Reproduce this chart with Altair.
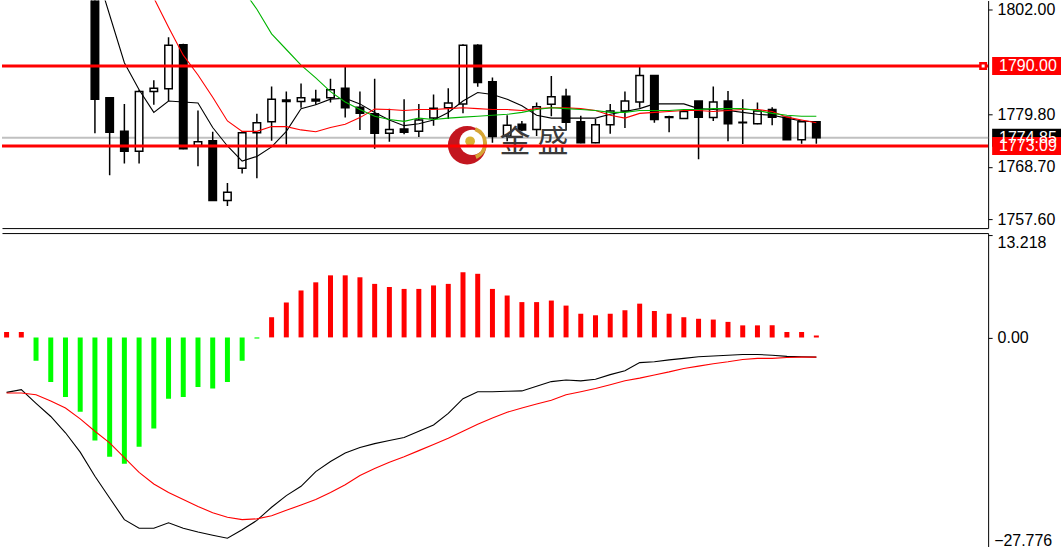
import altair as alt
import pandas as pd

FONT = "Liberation Sans"

# ---------------- price window ----------------
# candles start at bar 6; the bars before it lie above the visible price range
first_bar = 6
open_ = [1806.8, 1783.3, 1776.2, 1772.0, 1784.6, 1785.2, 1794.5, 1773.2, 1774.2, 1761.6,
         1768.4, 1775.9, 1778.2, 1782.8, 1782.5, 1783.0, 1783.3, 1785.3, 1781.3, 1779.9,
         1775.8, 1776.7, 1776.2, 1779.0, 1781.2, 1782.0, 1794.4, 1786.7, 1775.2, 1777.7,
         1776.6, 1781.9, 1783.6, 1778.2, 1773.8, 1777.6, 1780.5, 1782.4, 1788.0, 1779.3,
         1778.9, 1782.6, 1779.1, 1782.6, 1778.1, 1777.8, 1780.8, 1779.2, 1774.4, 1778.2]
high_ = [1808.9, 1783.4, 1782.0, 1785.0, 1787.0, 1796.1, 1794.7, 1780.6, 1776.1, 1765.3,
         1776.2, 1779.9, 1785.7, 1784.6, 1786.3, 1785.0, 1787.3, 1789.8, 1784.6, 1787.3,
         1781.0, 1783.0, 1782.0, 1784.0, 1785.3, 1794.6, 1794.6, 1787.6, 1779.6, 1778.4,
         1782.3, 1787.9, 1785.2, 1779.5, 1778.8, 1782.0, 1784.6, 1789.8, 1788.1, 1779.5,
         1780.5, 1782.6, 1785.7, 1784.7, 1783.0, 1782.3, 1781.3, 1779.3, 1778.4, 1778.4]
low_ = [1775.8, 1766.9, 1769.4, 1769.4, 1781.8, 1782.6, 1772.4, 1768.8, 1761.5, 1760.4,
        1767.3, 1766.3, 1774.2, 1773.4, 1781.2, 1781.8, 1782.3, 1779.1, 1776.5, 1772.5,
        1774.0, 1775.6, 1775.0, 1777.4, 1778.8, 1780.0, 1785.6, 1773.8, 1774.1, 1776.2,
        1775.2, 1779.4, 1776.4, 1773.7, 1773.7, 1775.7, 1776.9, 1781.2, 1778.0, 1776.0,
        1778.9, 1770.3, 1778.4, 1774.1, 1773.5, 1777.7, 1777.5, 1774.4, 1773.6, 1773.6]
close_ = [1783.0, 1776.0, 1772.0, 1784.6, 1785.3, 1794.4, 1772.5, 1774.0, 1761.6, 1763.3,
          1775.9, 1778.0, 1783.0, 1782.5, 1783.3, 1782.6, 1785.0, 1781.2, 1780.0, 1775.8,
          1776.6, 1776.0, 1778.6, 1781.1, 1782.2, 1794.4, 1786.5, 1775.1, 1777.5, 1776.5,
          1781.4, 1783.5, 1778.1, 1773.8, 1777.6, 1780.5, 1782.6, 1788.0, 1778.7, 1779.1,
          1780.4, 1779.2, 1782.4, 1777.8, 1778.0, 1780.5, 1779.2, 1774.4, 1778.2, 1774.85]

# moving averages on the same bars (None = not drawn)
ma_fast = [1810.9, 1800.8, 1790.7, 1785.0, 1780.2, 1782.6, 1782.4, 1782.2, 1777.0, 1773.1,
           1769.9, 1770.9, 1772.9, 1776.2, 1781.0, 1781.8, 1783.0, 1783.2, 1782.0, 1780.2,
           1778.6, 1777.4, 1777.8, 1778.6, 1780.2, 1782.6, 1784.4, 1784.0, 1783.0, 1781.6,
           1779.6, 1779.0, 1779.0, 1779.0, 1779.0, 1779.8, 1780.4, 1781.0, 1782.0, 1782.0,
           1782.0, 1781.0, 1780.8, 1780.6, 1780.2, 1779.8, 1779.6, 1779.0, 1778.4, 1778.2]
ma_mid = [None, None, None, 1812.9, 1804.4, 1798.2, 1792.3, 1788.1, 1783.4, 1778.4,
          1776.2, 1776.2, 1777.2, 1777.2, 1776.5, 1776.1, 1777.0, 1777.7, 1779.1, 1780.9,
          1780.8, 1780.6, 1780.8, 1780.8, 1781.0, 1781.2, 1781.0, 1780.8, 1780.8, 1780.6,
          1781.0, 1781.2, 1781.2, 1781.0, 1780.6, 1779.6, 1779.0, 1780.0, 1780.2, 1780.4,
          1780.6, 1780.6, 1780.4, 1780.6, 1780.8, 1780.8, 1780.4, 1779.2, 1778.6, 1778.0]
ma_slow = [None, None, None, None, None, None, None, None, None, 1810.9,
           1806.4, 1802.0, 1796.8, 1793.5, 1790.2, 1787.5, 1784.6, 1782.4, 1780.8, 1779.4,
           1778.7, 1778.3, 1779.0, 1778.7, 1779.0, 1779.2, 1779.4, 1779.6, 1779.8, 1780.2,
           1780.8, 1781.2, 1781.0, 1780.8, 1780.6, 1780.2, 1780.2, 1780.6, 1780.6, 1780.6,
           1780.8, 1780.8, 1781.0, 1781.0, 1781.0, 1780.6, 1780.0, 1779.6, 1779.4, 1779.4]

price_ticks = [1802.0, 1779.8, 1768.7, 1757.6]
level_prices = [1790.00, 1773.09]
bid_price = 1774.85

# ---------------- oscillator window ----------------
hist = [0.7, 0.7, -3.0, -5.75, -7.7, -9.6, -13.3, -15.4, -16.3, -14.1,
        -11.75, -7.9, -7.7, -6.4, -6.6, -5.75, -3.0, -0.15, 2.6, 4.5,
        6.05, 7.1, 8.0, 8.0, 7.75, 6.9, 6.5, 6.25, 6.25, 6.7,
        6.9, 8.4, 8.2, 6.25, 5.4, 4.55, 4.55, 4.75, 4.1, 3.05,
        2.85, 3.05, 3.5, 4.35, 3.4, 3.05, 2.6, 2.4, 2.3, 2.0,
        1.55, 1.55, 1.55, 0.7, 0.7, 0.25]
macd_main = [-7.09, -6.74, -8.5, -10.2, -12.3, -14.8, -17.9, -20.7, -23.5, -24.6,
             -24.6, -23.9, -24.6, -25.1, -25.5, -25.9, -24.8, -23.6, -21.9, -20.4,
             -19.2, -17.3, -16.0, -14.9, -14.2, -13.7, -13.3, -12.9, -12.1, -11.3,
             -9.8, -7.9, -7.0, -7.0, -6.95, -6.9, -6.3, -5.7, -5.5, -5.6,
             -5.4, -4.8, -4.3, -3.25, -3.15, -2.9, -2.7, -2.5, -2.4, -2.3,
             -2.2, -2.2, -2.3, -2.45, -2.5, -2.55]
macd_signal = [-7.16, -7.16, -7.4, -8.2, -9.1, -10.5, -12.1, -13.6, -15.5, -17.4,
               -18.9, -20.0, -20.9, -21.8, -22.6, -23.2, -23.5, -23.4, -23.0, -22.3,
               -21.6, -20.9, -20.0, -19.0, -17.8, -16.9, -16.1, -15.4, -14.6, -13.8,
               -13.0, -12.1, -11.2, -10.4, -9.65, -9.1, -8.6, -8.1, -7.4, -7.0,
               -6.6, -6.1, -5.6, -5.25, -4.85, -4.45, -4.0, -3.7, -3.4, -3.15,
               -2.85, -2.7, -2.7, -2.6, -2.55, -2.55]
osc_ticks = [13.218, 0.0]
osc_min_label = -27.776

# ---------------- tables ----------------
bars = list(range(first_bar, first_bar + len(open_)))
candles = pd.DataFrame({"bar": bars, "open": open_, "high": high_, "low": low_, "close": close_})

ma = pd.DataFrame({"bar": bars, "fast": ma_fast, "mid": ma_mid, "slow": ma_slow})
ma = ma.melt("bar", var_name="line", value_name="value").dropna()

levels = pd.DataFrame({"price": level_prices, "label": [f"{p:.2f}" for p in level_prices]})
# price tags on the scale: the bid tag first, the level tags drawn over it
tags = pd.DataFrame({
    "price": [bid_price] + level_prices,
    "label": [f"{bid_price:.2f}"] + [f"{p:.2f}" for p in level_prices],
    "kind": ["bid", "level", "level"],
})

osc_bars = list(range(len(hist)))
osc = pd.DataFrame({"bar": osc_bars, "hist": hist})
osc_lines = pd.DataFrame({"bar": osc_bars, "main": macd_main, "signal": macd_signal})
osc_lines = osc_lines.melt("bar", var_name="line", value_name="value")

# ---------------- scales / axes ----------------
W = 988
x_scale = alt.Scale(domain=[0.027, 66.33], nice=False, zero=False)
price_scale = alt.Scale(domain=[1756.8, 1802.8], nice=False, zero=False)
osc_scale = alt.Scale(domain=[-26.96, 13.45], nice=False, zero=False)

axis_style = dict(title=None, grid=False, domainColor="black", domainWidth=1,
                  tickColor="black", tickSize=4, tickWidth=1, labelFont=FONT,
                  labelFontSize=16, labelColor="black", labelPadding=5,
                  labelFlush=False, labelOverlap=False)
price_axis = alt.Axis(orient="right", values=price_ticks, format=".2f", **axis_style)
osc_axis = alt.Axis(
    orient="right", values=osc_ticks,
    labelExpr="datum.value == 0 ? '0.00' : format(datum.value, '.3f')",
    labelBaseline={"condition": {"test": "datum.value > 1", "value": "top"}, "value": "middle"},
    **axis_style,
)

top_x = alt.X("bar:Q", scale=x_scale,
              axis=alt.Axis(orient="bottom", labels=False, ticks=False, grid=False,
                            title=None, domainColor="black", domainWidth=1))
bot_x = alt.X("bar:Q", scale=x_scale,
              axis=alt.Axis(orient="top", labels=False, ticks=False, grid=False,
                            title=None, domainColor="black", domainWidth=1))


def py(field):
    return alt.Y(field, scale=price_scale, axis=price_axis)


def oy(field):
    return alt.Y(field, scale=osc_scale, axis=osc_axis)


# ---------------- price window layers ----------------
bid_line = alt.Chart(pd.DataFrame({"price": [bid_price]})).mark_rule(
    color="#C0C0C0", strokeWidth=2).encode(y=py("price:Q"))

wicks = alt.Chart(candles).mark_rule(color="black", strokeWidth=1.5, clip=True).encode(
    x=top_x, y=py("low:Q"), y2="high:Q")

bodies = alt.Chart(candles).mark_bar(
    orient="vertical", size=7.5, stroke="black", strokeWidth=1.5, clip=True
).encode(
    x=top_x, y=py("open:Q"), y2="close:Q",
    fill=alt.condition("datum.close >= datum.open", alt.value("white"), alt.value("black")),
)

ma_lines = alt.Chart(ma).mark_line(strokeWidth=1.1, clip=True).encode(
    x=top_x, y=py("value:Q"),
    color=alt.Color("line:N", legend=None,
                    scale=alt.Scale(domain=["fast", "mid", "slow"],
                                    range=["black", "#FF0000", "#00B400"])),
)

level_lines = alt.Chart(levels).mark_rule(color="#FF0000", strokeWidth=3).encode(y=py("price:Q"))

handle = alt.Chart(levels.iloc[[0]]).mark_square(
    size=30, fill="white", stroke="#FF0000", strokeWidth=2.5, opacity=1
).encode(x=alt.value(W - 5), y=py("price:Q"))

tag_boxes = alt.Chart(tags).mark_bar(orient="horizontal", size=18).encode(
    x=alt.value(W + 4), x2=alt.value(1061), y=py("price:Q"),
    fill=alt.condition("datum.kind == 'bid'", alt.value("black"), alt.value("#FF0000")),
)
tag_text = alt.Chart(tags).mark_text(
    align="left", baseline="middle", font=FONT, fontSize=16, color="white"
).encode(x=alt.value(W + 11), y=py("price:Q"), text="label:N")

# broker mark in the middle of the price window
logo_ring = alt.Chart(pd.DataFrame({"a": [0]})).mark_circle(
    size=1480, color="#C3161F", opacity=1).encode(x=alt.value(466), y=alt.value(145))
logo_hole = alt.Chart(pd.DataFrame({"a": [0]})).mark_circle(
    size=640, color="white", opacity=1).encode(x=alt.value(471), y=alt.value(142))
logo_arc = alt.Chart(pd.DataFrame({"a": [0]})).mark_arc(
    radius=17, radius2=13, theta=0.35, theta2=2.75, color="#D6A535").encode(
    x=alt.value(469), y=alt.value(143))
logo_ball = alt.Chart(pd.DataFrame({"a": [0]})).mark_circle(
    size=95, color="#D8B233", opacity=1).encode(x=alt.value(469), y=alt.value(141))
logo_text = alt.Chart(pd.DataFrame({"t": ["金 盛"]})).mark_text(
    font="Noto Sans CJK SC", fontSize=31, color="#3A3A3A", align="center", baseline="middle"
).encode(x=alt.value(533), y=alt.value(143), text="t:N")

top = alt.layer(
    bid_line, wicks, bodies, ma_lines, logo_ring, logo_hole, logo_arc, logo_ball, logo_text,
    level_lines, handle, tag_boxes, tag_text,
).properties(width=W, height=228)

# ---------------- oscillator window layers ----------------
hist_bars = alt.Chart(osc).mark_bar(orient="vertical", size=5, clip=True).encode(
    x=bot_x, y=oy("hist:Q"), y2=alt.Y2(datum=0),
    color=alt.condition("datum.hist > 0", alt.value("#FF0000"), alt.value("#00FF00")),
)
osc_curves = alt.Chart(osc_lines).mark_line(strokeWidth=1.1, clip=True).encode(
    x=bot_x, y=oy("value:Q"),
    color=alt.Color("line:N", legend=None,
                    scale=alt.Scale(domain=["main", "signal"], range=["black", "#FF0000"])),
)
min_label = alt.Chart(pd.DataFrame({"v": [osc_min_label]})).mark_text(
    align="left", baseline="bottom", dy=-4, font=FONT, fontSize=16, color="black"
).encode(x=alt.value(W + 6), y=oy("v:Q"), text=alt.Text("v:Q", format=".3f"))

bottom = alt.layer(hist_bars, osc_curves, min_label).properties(width=W, height=314)

chart = alt.vconcat(top, bottom, spacing=5, bounds="flush").properties(
    padding={"left": 0, "top": 0, "right": 0, "bottom": 0}, background="white"
).configure_view(stroke=None)

chart.save("out.html", embed_options={"renderer": "svg", "actions": False})
